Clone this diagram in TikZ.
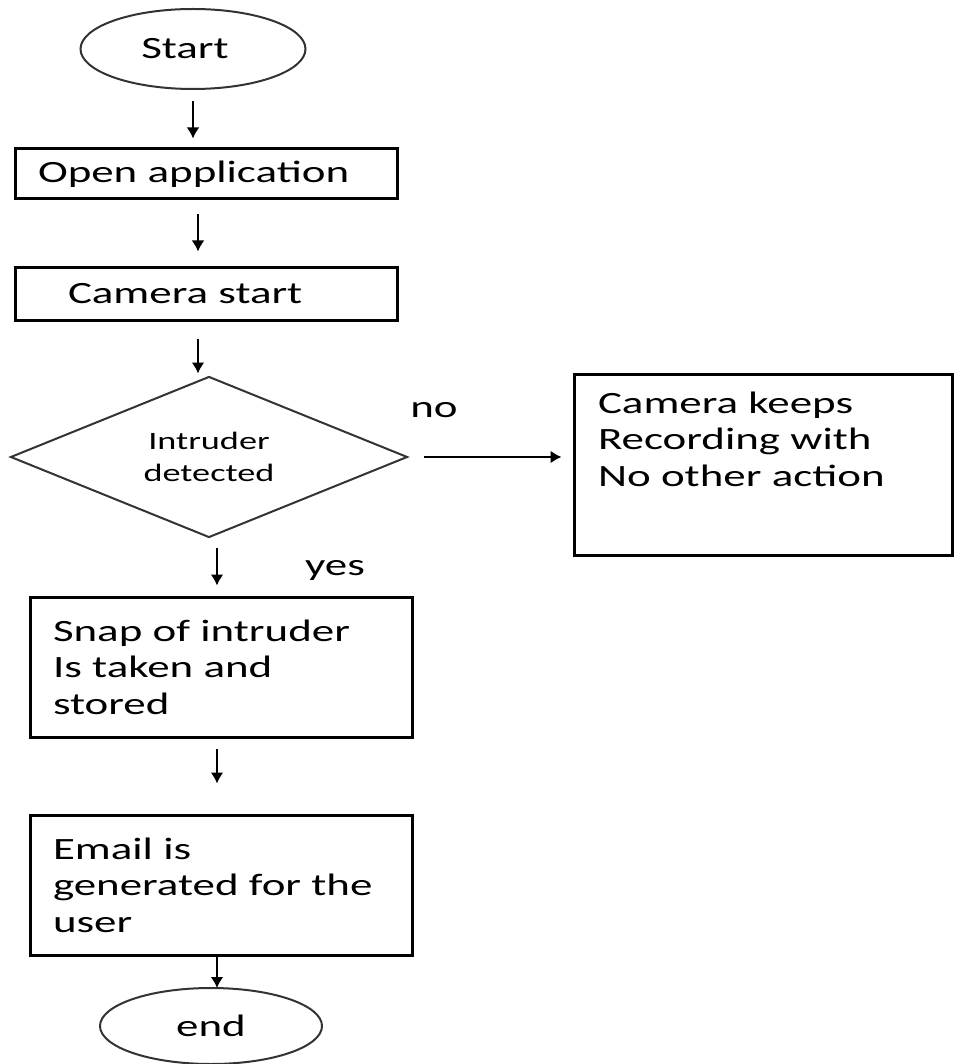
\documentclass[tikz,border=0pt]{standalone}
\usepackage{fontspec}
\setmainfont[FakeStretch=1.45]{Carlito}
\usetikzlibrary{shapes.geometric,arrows.meta}

\begin{document}
\begin{tikzpicture}[x=1pt,y=-1pt,
    font=\fontsize{31}{36.5}\selectfont,
    term/.style={ellipse,draw=black!80,line width=2pt,minimum width=225pt,minimum height=80pt,inner sep=0pt},
    box/.style={rectangle,draw,line width=3pt,minimum width=382pt,text width=336pt,inner xsep=23pt,align=left},
    decide/.style={diamond,aspect=2.5,draw=black!80,line width=2pt,minimum width=397pt,minimum height=161pt,inner sep=0pt,align=center,font=\fontsize{25}{32}\selectfont},
    flow/.style={line width=2.6pt,-{Latex[length=11pt,width=13pt]}}]
    \useasboundingbox (0,0) rectangle (954,1064);

    \node[term] (start) at (193,49) {Start\hspace*{16pt}};
    \node[box,minimum height=50pt] (open) at (206,174) {Open application};
    \node[box,minimum height=52pt,text width=276pt,inner xsep=53pt] (cam) at (206,294) {Camera start};
    \node[decide] (detect) at (209,457) {Intruder\\detected};
    \node[box,minimum width=378pt,minimum height=181pt,text width=330pt,inner xsep=24pt] (keep) at (763,464.5) {Camera keeps\\Recording with\\No other action\\[15pt]\mbox{}};
    \node[box,minimum height=140pt] (snap) at (221,667) {Snap of intruder\\Is taken and\\stored};
    \node[box,minimum height=140pt] (email) at (221,885) {Email is\\generated for the\\user};
    \node[term,minimum width=222pt,minimum height=76pt] (end) at (211,1026) {end};

    % branch labels
    \node (no) at (434,410) {no};
    \node (yes) at (335,570) {yes};

    \draw[flow,shorten <=11pt,shorten >=9pt] (start.south) -- (start.south |- open.north);
    \draw[flow,shorten <=14pt,shorten >=15pt] ([xshift=-8pt]open.south) -- ([xshift=-8pt]cam.north);
    \draw[flow,shorten <=17pt,shorten >=2pt] ([xshift=-8pt]cam.south) -- ([xshift=-8pt]cam.south |- detect.north);
    \draw[flow,shorten <=15pt,shorten >=11pt] (detect.east) -- (detect.east -| keep.west);
    \draw[flow,shorten <=9pt,shorten >=10pt] ([xshift=8pt]detect.south) -- ([xshift=8pt]detect.south |- snap.north);
    \draw[flow,shorten <=10pt,shorten >=30pt] ([xshift=-4pt]snap.south) -- ([xshift=-4pt]email.north);
    \draw[flow,shorten >=-1pt] ([xshift=-4pt]email.south) -- ([xshift=-4pt]email.south |- end.north);

\end{tikzpicture}
\end{document}
